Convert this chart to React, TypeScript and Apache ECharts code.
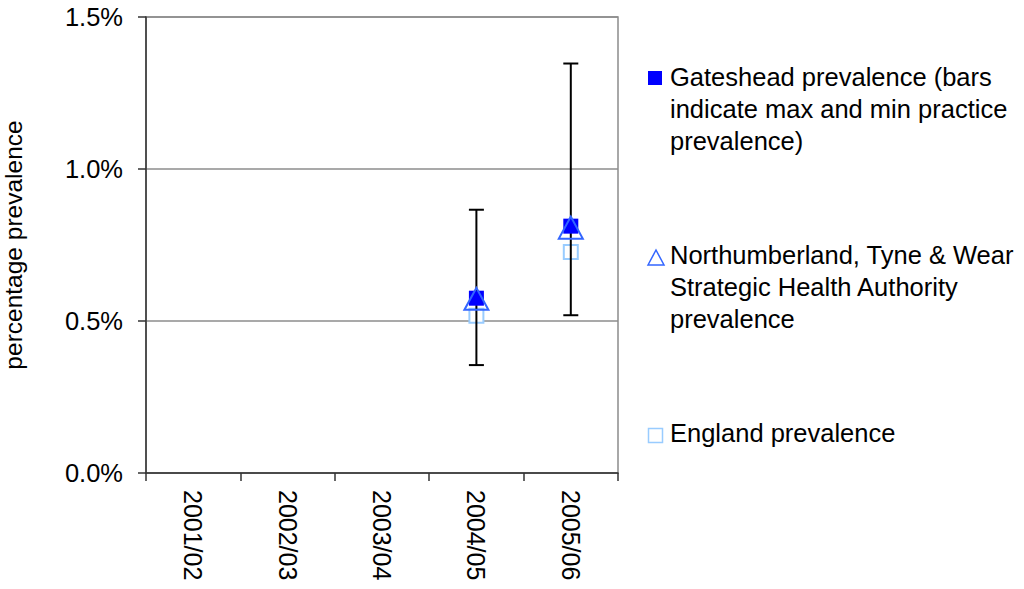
import React, { useEffect, useRef } from "react";
import * as echarts from "echarts";

const categories = ["2001/02", "2002/03", "2003/04", "2004/05", "2005/06"];
const gatesheadValues: (number | null)[] = [null, null, null, 0.575, 0.812];
const gatesheadMin: (number | null)[] = [null, null, null, 0.355, 0.519];
const gatesheadMax: (number | null)[] = [null, null, null, 0.866, 1.347];
const shaValues: (number | null)[] = [null, null, null, 0.573, 0.807];
const englandValues: (number | null)[] = [null, null, null, 0.517, 0.727];
const yTicks = [0, 0.5, 1.0, 1.5];

const legendLabels = [
  "Gateshead prevalence (bars\nindicate max and min practice\nprevalence)",
  "Northumberland, Tyne & Wear\nStrategic Health Authority\nprevalence",
  "England prevalence",
];

const FONT = "'Liberation Sans', Arial, sans-serif";

export default function App() {
  const ref = useRef<HTMLDivElement>(null);
  useEffect(() => {
    if (!ref.current) return;
    const chart = echarts.init(ref.current, undefined, { renderer: "svg" });
    const errData = categories
      .map((c, i) => [i, gatesheadMin[i], gatesheadMax[i]])
      .filter((d) => d[1] != null && d[2] != null);
    const option: any = {
      animation: false,
      backgroundColor: "#ffffff",
      textStyle: { fontFamily: FONT },
      grid: {
        left: 142,
        right: 406,
        top: 17,
        bottom: 116,
        show: true,
        borderColor: "#8c8c8c",
        borderWidth: 1.5,
        backgroundColor: "transparent",
      },
      xAxis: {
        type: "category",
        data: categories,
        boundaryGap: true,
        axisLine: { lineStyle: { color: "#333333", width: 1.5 } },
        axisTick: { show: true, length: 8, lineStyle: { color: "#333333", width: 1.5 } },
        axisLabel: {
          rotate: -90,
          fontSize: 25,
          color: "#000000",
          fontFamily: FONT,
          margin: 17,
          interval: 0,
        },
        splitLine: { show: false },
      },
      yAxis: {
        type: "value",
        min: yTicks[0],
        max: yTicks[yTicks.length - 1],
        interval: 0.5,
        name: "percentage prevalence",
        nameLocation: "middle",
        nameGap: 120,
        nameTextStyle: { fontSize: 24.5, color: "#000000", fontFamily: FONT },
        axisLine: { show: true, lineStyle: { color: "#333333", width: 1.5 } },
        axisTick: { show: true, length: 8, lineStyle: { color: "#333333", width: 1.5 } },
        axisLabel: {
          formatter: (v: number) => v.toFixed(1) + "%",
          fontSize: 25.5,
          color: "#000000",
          fontFamily: FONT,
          margin: 23,
        },
        splitLine: { show: true, lineStyle: { color: "#8c8c8c", width: 1.5 } },
      },
      series: [
        {
          name: "England prevalence",
          type: "scatter",
          data: englandValues,
          symbol: "rect",
          symbolSize: 14,
          itemStyle: { color: "#ffffff", borderColor: "#99CCFF", borderWidth: 2, opacity: 1 },
          z: 2,
        },
        {
          name: "range",
          type: "custom",
          data: errData,
          z: 3,
          renderItem: (params: any, api: any) => {
            const x = api.value(0);
            const lo = api.coord([x, api.value(1)]);
            const hi = api.coord([x, api.value(2)]);
            const cap = 7.5;
            const style = { stroke: "#000000", lineWidth: 2 };
            return {
              type: "group",
              children: [
                { type: "line", shape: { x1: lo[0], y1: lo[1], x2: hi[0], y2: hi[1] }, style },
                { type: "line", shape: { x1: lo[0] - cap, y1: lo[1], x2: lo[0] + cap, y2: lo[1] }, style },
                { type: "line", shape: { x1: hi[0] - cap, y1: hi[1], x2: hi[0] + cap, y2: hi[1] }, style },
              ],
            };
          },
        },
        {
          name: "Gateshead prevalence",
          type: "scatter",
          data: gatesheadValues,
          symbol: "rect",
          symbolSize: 15,
          itemStyle: { color: "#0000FF", opacity: 1 },
          z: 4,
        },
        {
          name: "Northumberland, Tyne & Wear Strategic Health Authority prevalence",
          type: "scatter",
          data: shaValues,
          symbol: "triangle",
          symbolSize: [24, 22],
          itemStyle: { color: "rgba(0,0,0,0)", borderColor: "#3366FF", borderWidth: 2, opacity: 1 },
          z: 5,
        },
      ],
      graphic: [
        { type: "rect", shape: { x: 648, y: 71, width: 14, height: 14 }, style: { fill: "#0000FF" } },
        {
          type: "polygon",
          shape: { points: [[648, 265], [656, 250], [664, 265]] },
          style: { fill: "none", stroke: "#3366FF", lineWidth: 1.5 },
        },
        {
          type: "rect",
          shape: { x: 648.5, y: 428.5, width: 14, height: 14 },
          style: { fill: "#ffffff", stroke: "#99CCFF", lineWidth: 1.5 },
        },
        {
          type: "text",
          x: 670,
          y: 61,
          style: { text: legendLabels[0], font: `25.5px ${FONT}`, fill: "#000000", lineHeight: 32, verticalAlign: "top" },
        },
        {
          type: "text",
          x: 670,
          y: 239,
          style: { text: legendLabels[1], font: `25.5px ${FONT}`, fill: "#000000", lineHeight: 32, verticalAlign: "top" },
        },
        {
          type: "text",
          x: 670,
          y: 417,
          style: { text: legendLabels[2], font: `25.5px ${FONT}`, fill: "#000000", lineHeight: 32, verticalAlign: "top" },
        },
      ],
    };
    chart.setOption(option);
    return () => chart.dispose();
  }, []);
  return (
    <div
      ref={ref}
      style={{ position: "absolute", left: 0, top: 0, width: 1024, height: 589, background: "#fff" }}
    />
  );
}
